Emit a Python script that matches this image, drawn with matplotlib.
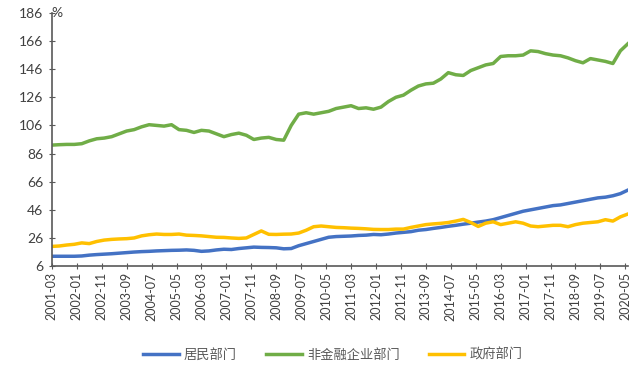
import numpy as np
import matplotlib.pyplot as plt

plt.rcParams['font.family'] = ['Lato', 'Noto Sans CJK SC', 'DejaVu Sans']

# 季度数据，2001-03 起，每季度一个点（月序号 0,3,6,...）
hh = [13, 13, 13, 13,
      13.2, 13.8, 14.2, 14.5,
      14.8, 15.2, 15.6, 16,
      16.3, 16.5, 16.8, 17,
      17.2, 17.3, 17.5, 17.2,
      16.5, 16.8, 17.5, 18,
      17.8, 18.5, 19, 19.5,
      19.3, 19.2, 19, 18.3,
      18.5, 20.5, 22, 23.5,
      25, 26.5, 27, 27.2,
      27.4, 27.8, 28, 28.5,
      28.3, 28.8, 29.5, 30,
      30.5, 31.5, 32, 32.8,
      33.5, 34.3, 35, 35.8,
      36.5, 37.3, 38, 39,
      40.5, 42, 43.5, 45,
      46, 47, 48, 49,
      49.5, 50.5, 51.5, 52.5,
      53.5, 54.5, 55, 56,
      57.5, 60]

corp = [92, 92.3, 92.5, 92.5,
        93, 95, 96.5, 97,
        98, 100, 102, 103,
        105, 106.5, 106, 105.5,
        106.5, 103, 102.5, 101,
        102.5, 102, 100, 98,
        99.5, 100.5, 99, 96,
        97, 97.5, 96, 95.5,
        106, 114, 115, 114,
        115, 116, 118, 119,
        120, 118, 118.5, 117.5,
        119, 123, 126, 127.5,
        131, 134, 135.5, 136,
        139, 143.5, 142, 141.5,
        145, 147, 149, 150,
        155, 155.5, 155.5, 156,
        159, 158.5, 157, 156,
        155.5, 154, 152, 150.5,
        153.5, 152.5, 151.5, 150,
        159, 164]

gov = [20, 20.3, 21, 21.5,
       22.5, 22, 23.5, 24.5,
       25, 25.3, 25.5, 26,
       27.5, 28.3, 28.8, 28.5,
       28.5, 28.8, 28, 27.8,
       27.5, 27, 26.5, 26.4,
       26, 25.7, 26, 28.5,
       31, 28.6, 28.5, 28.7,
       28.8, 29.5, 31.5, 34,
       34.5, 34, 33.5, 33.3,
       33, 32.8, 32.5, 32.1,
       32, 32, 32.3, 32.3,
       33.5, 34.5, 35.5, 36,
       36.4, 37, 38, 39.2,
       37, 34.2, 36.5, 37.5,
       35.5, 36.5, 37.5, 36.5,
       34.5, 34, 34.5, 35,
       35, 34, 35.5, 36.5,
       37, 37.5, 39, 38,
       41, 43]

names = ['居民部门', '非金融企业部门', '政府部门']
colors = ['#4472C4', '#70AD47', '#FFC000']

months = np.arange(len(hh)) * 3
tick_pos = np.arange(0, 231, 10)
tick_labels = []
for p in tick_pos:
    y = 2001 + (2 + p) // 12
    m = (2 + p) % 12 + 1
    tick_labels.append(f'{y}-{m:02d}')

fig = plt.figure(figsize=(6.4, 3.78), dpi=100)
ax = fig.add_axes([0.081, 0.296, 0.9, 0.67])

for vals, name, c in zip([hh, corp, gov], names, colors):
    ax.plot(months, vals, color=c, lw=2.5, label=name)

ax.set_xlim(0, 231)
ax.set_ylim(6, 186)
ax.set_yticks(np.arange(6, 187, 20))
ax.set_xticks(tick_pos)
ax.set_xticklabels(tick_labels, rotation=90)

for s in ['top', 'right']:
    ax.spines[s].set_visible(False)
for s in ['left', 'bottom']:
    ax.spines[s].set_color('#595959')
    ax.spines[s].set_linewidth(1.2)
ax.tick_params(direction='inout', length=5, color='#595959', labelsize=10,
               labelcolor='#404040')
ax.tick_params(axis='x', labelsize=9, pad=2)

ax.text(0.0, 1.0, '%', transform=ax.transAxes, fontsize=10, color='#404040',
        ha='left', va='center')

fig.legend(loc='lower center', ncol=3, frameon=False, fontsize=9.5,
           bbox_to_anchor=(0.52, 0.015), handlelength=2.7, columnspacing=2.2,
           handletextpad=0.4, labelcolor='#595959')

fig.savefig('out.png', dpi=100)
